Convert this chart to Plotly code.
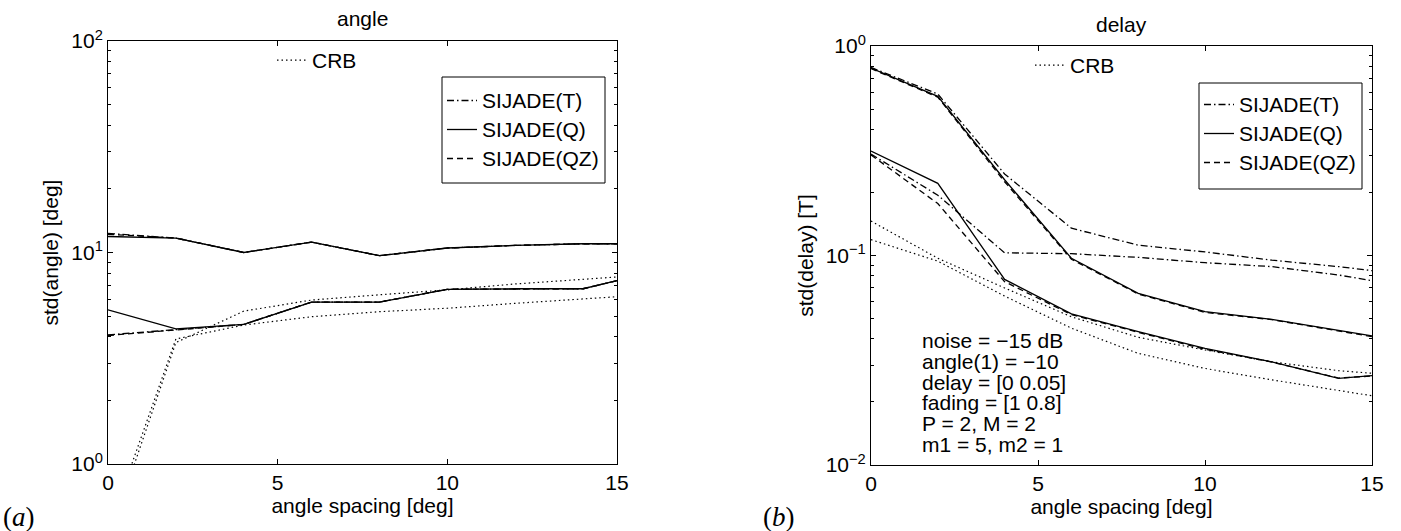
import plotly.graph_objects as go

# ---------------- data ----------------
spacing = [0, 2, 4, 6, 8, 10, 12, 14, 15]

# angle panel (a)
angle_T1 = [12.3, 11.7, 10.0, 11.2, 9.66, 10.5, 10.8, 11.0, 11.0]
angle_Q1 = [11.9, 11.7, 10.0, 11.2, 9.66, 10.5, 10.8, 11.0, 11.0]
angle_QZ1 = [12.2, 11.7, 10.0, 11.2, 9.66, 10.5, 10.8, 11.0, 11.0]
angle_T2 = [4.08, 4.32, 4.57, 5.83, 5.83, 6.70, 6.74, 6.74, 7.36]
angle_Q2 = [5.36, 4.35, 4.57, 5.83, 5.83, 6.70, 6.74, 6.74, 7.36]
angle_QZ2 = [4.05, 4.32, 4.57, 5.83, 5.83, 6.70, 6.74, 6.74, 7.36]
angle_CRB1 = [0.43, 3.75, 5.28, 5.96, 6.31, 6.66, 7.10, 7.47, 7.66]
angle_CRB2 = [0.48, 3.90, 4.54, 4.97, 5.25, 5.45, 5.75, 6.05, 6.18]

# delay panel (b)
delay_T1 = [0.79, 0.59, 0.245, 0.135, 0.112, 0.104, 0.095, 0.0885, 0.0847]
delay_Q1 = [0.785, 0.575, 0.23, 0.097, 0.066, 0.054, 0.0496, 0.0441, 0.0413]
delay_QZ1 = [0.78, 0.57, 0.225, 0.096, 0.0655, 0.0535, 0.0494, 0.0438, 0.041]
delay_T2 = [0.305, 0.194, 0.103, 0.102, 0.098, 0.0924, 0.0885, 0.0807, 0.0758]
delay_Q2 = [0.315, 0.221, 0.0769, 0.0526, 0.0433, 0.036, 0.0311, 0.0259, 0.0267]
delay_QZ2 = [0.302, 0.177, 0.075, 0.0522, 0.043, 0.0357, 0.031, 0.026, 0.0266]
delay_CRB1 = [0.146, 0.097, 0.070, 0.051, 0.0407, 0.0354, 0.0311, 0.0282, 0.0274]
delay_CRB2 = [0.119, 0.094, 0.064, 0.045, 0.0341, 0.0289, 0.0255, 0.0228, 0.0214]

method_names = ["SIJADE(T)", "SIJADE(Q)", "SIJADE(QZ)"]
crb_name = "CRB"

x_tickvals = [0, 5, 10, 15]
angle_tickvals = [1, 10, 100]
angle_ticktext = ["10<sup>0</sup>", "10<sup>1</sup>", "10<sup>2</sup>"]
delay_tickvals = [0.01, 0.1, 1]
delay_ticktext = ["10<sup>\u22122</sup>", "10<sup>\u22121</sup>", "10<sup>0</sup>"]

note_lines = ["noise = \u221215 dB", "angle(1) = \u221210", "delay = [0 0.05]",
              "fading = [1 0.8]", "P = 2, M = 2", "m1 = 5, m2 = 1"]

# ---------------- styling ----------------
W, H = 1401, 531
FONT = "Liberation Sans, Arial, Helvetica, sans-serif"
FS = 21
dash_T = "7px,3px,1.5px,3px"
dash_Q = "solid"
dash_QZ = "6px,4px"
dash_CRB = "1.5px,3px"
LW = 1.3

def px2x(p):
    return p / W

def px2y(p):
    return 1 - p / H

def big(s):
    return '<span style="font-size:%dpx">%s</span>' % (FS, s)

fig = go.Figure()

def add_panel(xa, ya, series, legend_box, legend_crb):
    (t1, q1, qz1, t2, q2, qz2, c1, c2) = series
    styles = [dash_T, dash_Q, dash_QZ]
    for i, (a, b) in enumerate([(t1, t2), (q1, q2), (qz1, qz2)]):
        for j, yy in enumerate([a, b]):
            fig.add_trace(go.Scatter(
                x=spacing, y=yy, mode="lines", name=big(method_names[i]),
                line=dict(color="black", width=LW, dash=styles[i]),
                xaxis=xa, yaxis=ya, legend=legend_box,
                showlegend=(j == 0), legendrank=i + 1, hoverinfo="skip"))
    for j, yy in enumerate([c1, c2]):
        fig.add_trace(go.Scatter(
            x=spacing, y=yy, mode="lines", name=crb_name,
            line=dict(color="black", width=1.2, dash=dash_CRB),
            xaxis=xa, yaxis=ya, legend=legend_crb,
            showlegend=(j == 0), hoverinfo="skip"))

add_panel("x", "y", (angle_T1, angle_Q1, angle_QZ1, angle_T2, angle_Q2, angle_QZ2,
                     angle_CRB1, angle_CRB2), "legend2", "legend")
add_panel("x2", "y2", (delay_T1, delay_Q1, delay_QZ1, delay_T2, delay_Q2, delay_QZ2,
                       delay_CRB1, delay_CRB2), "legend4", "legend3")

def minor_vals(lo, hi):
    out = []
    for e in range(lo, hi):
        for m in range(2, 10):
            out.append(m * 10 ** e)
    return out

axis_common = dict(showline=True, linecolor="black", linewidth=1, mirror="ticks",
                   ticks="inside", ticklen=5, tickcolor="black", tickwidth=1,
                   showgrid=False, zeroline=False, automargin=False,
                   tickfont=dict(family=FONT, size=FS, color="black"))

xa_common = dict(axis_common, range=[0, 15], tickmode="array", tickvals=x_tickvals,
                 title=dict(text="angle spacing [deg]", font=dict(family=FONT, size=FS, color="black"),
                            standoff=3))

LEG_FS = 20
box_legend = dict(xanchor="left", yanchor="top", bgcolor="rgba(0,0,0,0)", borderwidth=0,
                  itemwidth=30, font=dict(family=FONT, size=LEG_FS), traceorder="normal")
crb_legend = dict(xanchor="left", yanchor="top", bgcolor="rgba(0,0,0,0)", borderwidth=0,
                  itemwidth=30, font=dict(family=FONT, size=FS))

fig.update_layout(
    template="none",
    width=W, height=H, margin=dict(l=0, r=0, t=0, b=0, pad=0, autoexpand=False),
    paper_bgcolor="white", plot_bgcolor="white",
    font=dict(family=FONT, size=FS, color="black"),
    xaxis=dict(xa_common, domain=[px2x(108), px2x(617)], anchor="y"),
    xaxis2=dict(xa_common, domain=[px2x(871), px2x(1372)], anchor="y2"),
    yaxis=dict(axis_common, type="log", range=[0, 2], domain=[px2y(464), px2y(41)], anchor="x",
               tickmode="array", tickvals=angle_tickvals, ticktext=angle_ticktext,
               minor=dict(ticks="inside", ticklen=3, tickcolor="black", tickvals=minor_vals(0, 2)),
               title=dict(text="std(angle) [deg]", font=dict(family=FONT, size=FS, color="black"), standoff=6)),
    yaxis2=dict(axis_common, type="log", range=[-2, 0], domain=[px2y(465), px2y(46)], anchor="x2",
                tickmode="array", tickvals=delay_tickvals, ticktext=delay_ticktext,
                minor=dict(ticks="inside", ticklen=3, tickcolor="black", tickvals=minor_vals(-2, 0)),
                title=dict(text="std(delay) [T]", font=dict(family=FONT, size=FS, color="black"), standoff=6)),
    legend=dict(crb_legend, x=px2x(272), y=px2y(40)),
    legend2=dict(box_legend, x=px2x(442), y=px2y(81)),
    legend3=dict(crb_legend, x=px2x(1030), y=px2y(45)),
    legend4=dict(box_legend, x=px2x(1199), y=px2y(85)),
    shapes=[
        dict(type="rect", xref="paper", yref="paper", x0=px2x(442), x1=px2x(605),
             y0=px2y(183), y1=px2y(77), line=dict(color="black", width=1), fillcolor="rgba(0,0,0,0)"),
        dict(type="rect", xref="paper", yref="paper", x0=px2x(1199), x1=px2x(1362),
             y0=px2y(189), y1=px2y(83), line=dict(color="black", width=1), fillcolor="rgba(0,0,0,0)"),
    ],
)

notes_text = "<br>".join(big(s) for s in note_lines)
annotations = [
    dict(text="angle", x=px2x(362), y=px2y(18), xref="paper", yref="paper",
         showarrow=False, xanchor="center", yanchor="middle", font=dict(family=FONT, size=FS)),
    dict(text="delay", x=px2x(1121), y=px2y(24), xref="paper", yref="paper",
         showarrow=False, xanchor="center", yanchor="middle", font=dict(family=FONT, size=FS)),
    dict(text="(<i>a</i>)", x=px2x(19), y=px2y(517), xref="paper", yref="paper",
         showarrow=False, xanchor="center", yanchor="middle",
         font=dict(family="Liberation Serif, DejaVu Serif, serif", size=27)),
    dict(text="(<i>b</i>)", x=px2x(779), y=px2y(517), xref="paper", yref="paper",
         showarrow=False, xanchor="center", yanchor="middle",
         font=dict(family="Liberation Serif, DejaVu Serif, serif", size=27)),
    dict(text=notes_text, x=px2x(920), y=px2y(392), xref="paper", yref="paper",
         showarrow=False, xanchor="left", yanchor="middle", align="left",
         font=dict(family=FONT, size=16)),
]
fig.update_layout(annotations=annotations)

fig.write_html("out.html")
